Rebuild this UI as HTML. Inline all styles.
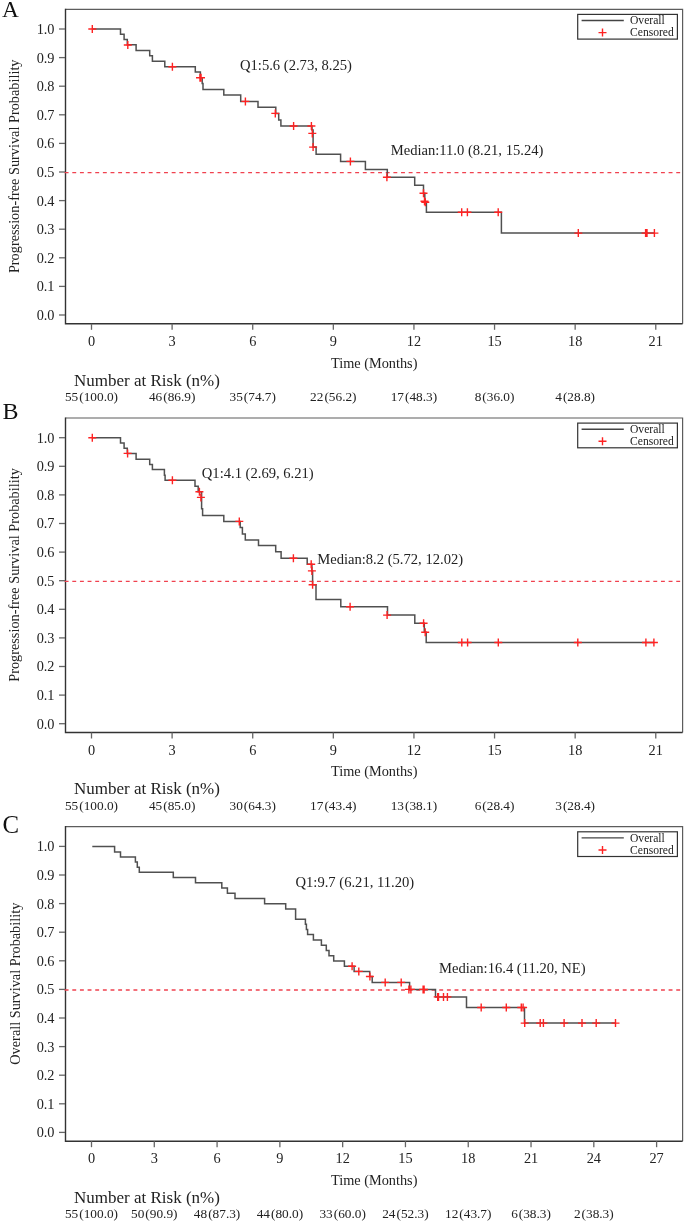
<!DOCTYPE html>
<html><head><meta charset="utf-8"><style>
html,body{margin:0;padding:0;background:#fff;}
svg{display:block;font-family:"Liberation Serif", serif;will-change:transform;}
</style></head><body>
<svg width="685" height="1222" viewBox="0 0 685 1222">
<rect width="685" height="1222" fill="#fff"/>
<text x="1.9" y="17.3" font-size="23.3" fill="#111">A</text>
<path d="M65.5 9.3H682.6V323.8" fill="none" stroke="#5c5c5c" stroke-width="1.2"/>
<path d="M65.5 8.7V323.8H682.6" fill="none" stroke="#333" stroke-width="1.4"/>
<line x1="59" y1="315" x2="65" y2="315" stroke="#666" stroke-width="1.3"/>
<text x="54.5" y="319.9" font-size="14.3" text-anchor="end" fill="#222">0.0</text>
<line x1="59" y1="286.4" x2="65" y2="286.4" stroke="#666" stroke-width="1.3"/>
<text x="54.5" y="291.3" font-size="14.3" text-anchor="end" fill="#222">0.1</text>
<line x1="59" y1="257.8" x2="65" y2="257.8" stroke="#666" stroke-width="1.3"/>
<text x="54.5" y="262.7" font-size="14.3" text-anchor="end" fill="#222">0.2</text>
<line x1="59" y1="229.2" x2="65" y2="229.2" stroke="#666" stroke-width="1.3"/>
<text x="54.5" y="234.1" font-size="14.3" text-anchor="end" fill="#222">0.3</text>
<line x1="59" y1="200.6" x2="65" y2="200.6" stroke="#666" stroke-width="1.3"/>
<text x="54.5" y="205.5" font-size="14.3" text-anchor="end" fill="#222">0.4</text>
<line x1="59" y1="172" x2="65" y2="172" stroke="#666" stroke-width="1.3"/>
<text x="54.5" y="176.9" font-size="14.3" text-anchor="end" fill="#222">0.5</text>
<line x1="59" y1="143.4" x2="65" y2="143.4" stroke="#666" stroke-width="1.3"/>
<text x="54.5" y="148.3" font-size="14.3" text-anchor="end" fill="#222">0.6</text>
<line x1="59" y1="114.8" x2="65" y2="114.8" stroke="#666" stroke-width="1.3"/>
<text x="54.5" y="119.7" font-size="14.3" text-anchor="end" fill="#222">0.7</text>
<line x1="59" y1="86.2" x2="65" y2="86.2" stroke="#666" stroke-width="1.3"/>
<text x="54.5" y="91.1" font-size="14.3" text-anchor="end" fill="#222">0.8</text>
<line x1="59" y1="57.6" x2="65" y2="57.6" stroke="#666" stroke-width="1.3"/>
<text x="54.5" y="62.5" font-size="14.3" text-anchor="end" fill="#222">0.9</text>
<line x1="59" y1="29" x2="65" y2="29" stroke="#666" stroke-width="1.3"/>
<text x="54.5" y="33.9" font-size="14.3" text-anchor="end" fill="#222">1.0</text>
<line x1="91.5" y1="323.8" x2="91.5" y2="329.8" stroke="#666" stroke-width="1.3"/>
<text x="91.5" y="345.9" font-size="14.3" text-anchor="middle" fill="#222">0</text>
<line x1="172.11" y1="323.8" x2="172.11" y2="329.8" stroke="#666" stroke-width="1.3"/>
<text x="172.11" y="345.9" font-size="14.3" text-anchor="middle" fill="#222">3</text>
<line x1="252.72" y1="323.8" x2="252.72" y2="329.8" stroke="#666" stroke-width="1.3"/>
<text x="252.72" y="345.9" font-size="14.3" text-anchor="middle" fill="#222">6</text>
<line x1="333.33" y1="323.8" x2="333.33" y2="329.8" stroke="#666" stroke-width="1.3"/>
<text x="333.33" y="345.9" font-size="14.3" text-anchor="middle" fill="#222">9</text>
<line x1="413.94" y1="323.8" x2="413.94" y2="329.8" stroke="#666" stroke-width="1.3"/>
<text x="413.94" y="345.9" font-size="14.3" text-anchor="middle" fill="#222">12</text>
<line x1="494.55" y1="323.8" x2="494.55" y2="329.8" stroke="#666" stroke-width="1.3"/>
<text x="494.55" y="345.9" font-size="14.3" text-anchor="middle" fill="#222">15</text>
<line x1="575.16" y1="323.8" x2="575.16" y2="329.8" stroke="#666" stroke-width="1.3"/>
<text x="575.16" y="345.9" font-size="14.3" text-anchor="middle" fill="#222">18</text>
<line x1="655.77" y1="323.8" x2="655.77" y2="329.8" stroke="#666" stroke-width="1.3"/>
<text x="655.77" y="345.9" font-size="14.3" text-anchor="middle" fill="#222">21</text>
<text x="374.2" y="367.6" font-size="14.3" text-anchor="middle" fill="#222">Time (Months)</text>
<text transform="translate(19.2 166.3) rotate(-90)" x="0" y="0" font-size="14.3" text-anchor="middle" fill="#222">Progression-free Survival Probability</text>
<line x1="64.65" y1="172.6" x2="682" y2="172.6" stroke="#f0424f" stroke-width="1.3" stroke-dasharray="3.9 3.745"/>
<path d="M92.3 29 H120.5 V34.3 H124.1 V39.4 H127.3 V44.8 H136.1 V50.4 H149.7 V55.8 H152.4 V61.2 H164.8 V66.7 H195.3 V72.1 H200.4 V77.8 H202.2 V83.4 H203 V89.6 H223.8 V95.1 H240.7 V101.4 H258 V107.3 H275.8 V113.4 H278.7 V119.9 H280.9 V126 H312 V130 H313.1 V147.1 H316.1 V154.2 H340.6 V161.4 H365.4 V169.5 H387.3 V177.2 H414.7 V185.3 H423.5 V193.3 H424.8 V201.8 H426.4 V212.2 H501.4 V233.1 H654.4 V233.1" fill="none" stroke="#505050" stroke-width="1.5"/>
<path d="M88.3 29H96.3M92.3 25V33M123.8 45H131.8M127.8 41V49M168.4 66.7H176.4M172.4 62.7V70.7M196 77.8H204M200 73.8V81.8M197 77.8H205M201 73.8V81.8M241.4 101.4H249.4M245.4 97.4V105.4M271.3 113.4H279.3M275.3 109.4V117.4M289.6 126H297.6M293.6 122V130M307.4 126H315.4M311.4 122V130M308.3 133.4H316.3M312.3 129.4V137.4M309.1 147.1H317.1M313.1 143.1V151.1M346.4 161.4H354.4M350.4 157.4V165.4M382.9 177.2H390.9M386.9 173.2V181.2M419.5 193.3H427.5M423.5 189.3V197.3M420.5 201.3H428.5M424.5 197.3V205.3M421.3 202.3H429.3M425.3 198.3V206.3M457.7 212.2H465.7M461.7 208.2V216.2M463.4 212.2H471.4M467.4 208.2V216.2M494.2 212.2H502.2M498.2 208.2V216.2M574.3 233.1H582.3M578.3 229.1V237.1M641.6 233.1H649.6M645.6 229.1V237.1M643 233.1H651M647 229.1V237.1M650.4 233.1H658.4M654.4 229.1V237.1" stroke="#f22" stroke-width="1.4" fill="none"/>
<rect x="577.7" y="14.4" width="99.7" height="24.7" fill="#fff" stroke="#333" stroke-width="1.2"/>
<line x1="581.6" y1="20.5" x2="623.8" y2="20.5" stroke="#444" stroke-width="1.4"/>
<path d="M598.5 32.6H606.5M602.5 28.6V36.6" stroke="#f22" stroke-width="1.4" fill="none"/>
<text x="630" y="24.4" font-size="11.6" fill="#222">Overall</text>
<text x="630" y="36.2" font-size="11.6" fill="#222">Censored</text>
<text x="240" y="69.6" font-size="14.6" fill="#222">Q1:5.6 (2.73, 8.25)</text>
<text x="390.7" y="155.3" font-size="14.6" fill="#222">Median:11.0 (8.21, 15.24)</text>
<text x="74" y="385.6" font-size="17" fill="#222">Number at Risk (n%)</text>
<text x="91.5" y="400.9" font-size="13.3" text-anchor="middle" fill="#222">55<tspan dx="1.0">(</tspan>100.0)</text>
<text x="172.11" y="400.9" font-size="13.3" text-anchor="middle" fill="#222">46<tspan dx="1.0">(</tspan>86.9)</text>
<text x="252.72" y="400.9" font-size="13.3" text-anchor="middle" fill="#222">35<tspan dx="1.0">(</tspan>74.7)</text>
<text x="333.33" y="400.9" font-size="13.3" text-anchor="middle" fill="#222">22<tspan dx="1.0">(</tspan>56.2)</text>
<text x="413.94" y="400.9" font-size="13.3" text-anchor="middle" fill="#222">17<tspan dx="1.0">(</tspan>48.3)</text>
<text x="494.55" y="400.9" font-size="13.3" text-anchor="middle" fill="#222">8<tspan dx="1.0">(</tspan>36.0)</text>
<text x="575.16" y="400.9" font-size="13.3" text-anchor="middle" fill="#222">4<tspan dx="1.0">(</tspan>28.8)</text>
<text x="2.6" y="418.6" font-size="24" fill="#111">B</text>
<path d="M65.5 418H682.6V732.5" fill="none" stroke="#5c5c5c" stroke-width="1.2"/>
<path d="M65.5 417.4V732.5H682.6" fill="none" stroke="#333" stroke-width="1.4"/>
<line x1="59" y1="723.7" x2="65" y2="723.7" stroke="#666" stroke-width="1.3"/>
<text x="54.5" y="728.6" font-size="14.3" text-anchor="end" fill="#222">0.0</text>
<line x1="59" y1="695.1" x2="65" y2="695.1" stroke="#666" stroke-width="1.3"/>
<text x="54.5" y="700" font-size="14.3" text-anchor="end" fill="#222">0.1</text>
<line x1="59" y1="666.5" x2="65" y2="666.5" stroke="#666" stroke-width="1.3"/>
<text x="54.5" y="671.4" font-size="14.3" text-anchor="end" fill="#222">0.2</text>
<line x1="59" y1="637.9" x2="65" y2="637.9" stroke="#666" stroke-width="1.3"/>
<text x="54.5" y="642.8" font-size="14.3" text-anchor="end" fill="#222">0.3</text>
<line x1="59" y1="609.3" x2="65" y2="609.3" stroke="#666" stroke-width="1.3"/>
<text x="54.5" y="614.2" font-size="14.3" text-anchor="end" fill="#222">0.4</text>
<line x1="59" y1="580.7" x2="65" y2="580.7" stroke="#666" stroke-width="1.3"/>
<text x="54.5" y="585.6" font-size="14.3" text-anchor="end" fill="#222">0.5</text>
<line x1="59" y1="552.1" x2="65" y2="552.1" stroke="#666" stroke-width="1.3"/>
<text x="54.5" y="557" font-size="14.3" text-anchor="end" fill="#222">0.6</text>
<line x1="59" y1="523.5" x2="65" y2="523.5" stroke="#666" stroke-width="1.3"/>
<text x="54.5" y="528.4" font-size="14.3" text-anchor="end" fill="#222">0.7</text>
<line x1="59" y1="494.9" x2="65" y2="494.9" stroke="#666" stroke-width="1.3"/>
<text x="54.5" y="499.8" font-size="14.3" text-anchor="end" fill="#222">0.8</text>
<line x1="59" y1="466.3" x2="65" y2="466.3" stroke="#666" stroke-width="1.3"/>
<text x="54.5" y="471.2" font-size="14.3" text-anchor="end" fill="#222">0.9</text>
<line x1="59" y1="437.7" x2="65" y2="437.7" stroke="#666" stroke-width="1.3"/>
<text x="54.5" y="442.6" font-size="14.3" text-anchor="end" fill="#222">1.0</text>
<line x1="91.5" y1="732.5" x2="91.5" y2="738.5" stroke="#666" stroke-width="1.3"/>
<text x="91.5" y="754.6" font-size="14.3" text-anchor="middle" fill="#222">0</text>
<line x1="172.11" y1="732.5" x2="172.11" y2="738.5" stroke="#666" stroke-width="1.3"/>
<text x="172.11" y="754.6" font-size="14.3" text-anchor="middle" fill="#222">3</text>
<line x1="252.72" y1="732.5" x2="252.72" y2="738.5" stroke="#666" stroke-width="1.3"/>
<text x="252.72" y="754.6" font-size="14.3" text-anchor="middle" fill="#222">6</text>
<line x1="333.33" y1="732.5" x2="333.33" y2="738.5" stroke="#666" stroke-width="1.3"/>
<text x="333.33" y="754.6" font-size="14.3" text-anchor="middle" fill="#222">9</text>
<line x1="413.94" y1="732.5" x2="413.94" y2="738.5" stroke="#666" stroke-width="1.3"/>
<text x="413.94" y="754.6" font-size="14.3" text-anchor="middle" fill="#222">12</text>
<line x1="494.55" y1="732.5" x2="494.55" y2="738.5" stroke="#666" stroke-width="1.3"/>
<text x="494.55" y="754.6" font-size="14.3" text-anchor="middle" fill="#222">15</text>
<line x1="575.16" y1="732.5" x2="575.16" y2="738.5" stroke="#666" stroke-width="1.3"/>
<text x="575.16" y="754.6" font-size="14.3" text-anchor="middle" fill="#222">18</text>
<line x1="655.77" y1="732.5" x2="655.77" y2="738.5" stroke="#666" stroke-width="1.3"/>
<text x="655.77" y="754.6" font-size="14.3" text-anchor="middle" fill="#222">21</text>
<text x="374.2" y="776.3" font-size="14.3" text-anchor="middle" fill="#222">Time (Months)</text>
<text transform="translate(18.9 575) rotate(-90)" x="0" y="0" font-size="14.3" text-anchor="middle" fill="#222">Progression-free Survival Probability</text>
<line x1="64.65" y1="581.3" x2="682" y2="581.3" stroke="#f0424f" stroke-width="1.3" stroke-dasharray="3.9 3.745"/>
<path d="M92.3 437.7 H120.5 V443.1 H124.1 V448.2 H127.3 V453.4 H136.1 V459.2 H149.7 V464.6 H152.4 V469.4 H164.4 V475.2 H165.1 V480.3 H195 V486.2 H198.2 V491.7 H201.6 V508.8 H202.6 V515.4 H223.8 V521.4 H240.2 V527.6 H242.4 V533.9 H245.3 V540 H258.5 V545.6 H275.7 V551.7 H281.1 V558.2 H307.2 V564.2 H311.9 V570.9 H312.6 V584.7 H316 V599.6 H340.8 V606.8 H387.5 V615.1 H414.8 V623.3 H424.3 V632.3 H426.2 V642.5 H654 V642.5" fill="none" stroke="#505050" stroke-width="1.5"/>
<path d="M88.3 437.7H96.3M92.3 433.7V441.7M123.6 453.4H131.6M127.6 449.4V457.4M168.4 480.3H176.4M172.4 476.3V484.3M195.4 491.7H203.4M199.4 487.7V495.7M196.9 497.4H204.9M200.9 493.4V501.4M235.3 521.4H243.3M239.3 517.4V525.4M289.4 558.2H297.4M293.4 554.2V562.2M307.2 564.2H315.2M311.2 560.2V568.2M307.9 570.9H315.9M311.9 566.9V574.9M308.6 584.7H316.6M312.6 580.7V588.7M346.1 606.8H354.1M350.1 602.8V610.8M383.1 615.1H391.1M387.1 611.1V619.1M419.6 623.3H427.6M423.6 619.3V627.3M421.2 632.3H429.2M425.2 628.3V636.3M457.8 642.5H465.8M461.8 638.5V646.5M463.6 642.5H471.6M467.6 638.5V646.5M494.3 642.5H502.3M498.3 638.5V646.5M573.8 642.5H581.8M577.8 638.5V646.5M641.9 642.5H649.9M645.9 638.5V646.5M649.9 642.5H657.9M653.9 638.5V646.5" stroke="#f22" stroke-width="1.4" fill="none"/>
<rect x="577.7" y="423.1" width="99.7" height="24.7" fill="#fff" stroke="#333" stroke-width="1.2"/>
<line x1="581.6" y1="429.2" x2="623.8" y2="429.2" stroke="#444" stroke-width="1.4"/>
<path d="M598.5 441.3H606.5M602.5 437.3V445.3" stroke="#f22" stroke-width="1.4" fill="none"/>
<text x="630" y="433.1" font-size="11.6" fill="#222">Overall</text>
<text x="630" y="444.9" font-size="11.6" fill="#222">Censored</text>
<text x="201.8" y="477.6" font-size="14.6" fill="#222">Q1:4.1 (2.69, 6.21)</text>
<text x="317.2" y="563.7" font-size="14.6" fill="#222">Median:8.2 (5.72, 12.02)</text>
<text x="74" y="794.3" font-size="17" fill="#222">Number at Risk (n%)</text>
<text x="91.5" y="809.6" font-size="13.3" text-anchor="middle" fill="#222">55<tspan dx="1.0">(</tspan>100.0)</text>
<text x="172.11" y="809.6" font-size="13.3" text-anchor="middle" fill="#222">45<tspan dx="1.0">(</tspan>85.0)</text>
<text x="252.72" y="809.6" font-size="13.3" text-anchor="middle" fill="#222">30<tspan dx="1.0">(</tspan>64.3)</text>
<text x="333.33" y="809.6" font-size="13.3" text-anchor="middle" fill="#222">17<tspan dx="1.0">(</tspan>43.4)</text>
<text x="413.94" y="809.6" font-size="13.3" text-anchor="middle" fill="#222">13<tspan dx="1.0">(</tspan>38.1)</text>
<text x="494.55" y="809.6" font-size="13.3" text-anchor="middle" fill="#222">6<tspan dx="1.0">(</tspan>28.4)</text>
<text x="575.16" y="809.6" font-size="13.3" text-anchor="middle" fill="#222">3<tspan dx="1.0">(</tspan>28.4)</text>
<text x="2.6" y="833.3" font-size="24.8" fill="#111">C</text>
<path d="M65.5 826.7H682.6V1141.2" fill="none" stroke="#5c5c5c" stroke-width="1.2"/>
<path d="M65.5 826.1V1141.2H682.6" fill="none" stroke="#333" stroke-width="1.4"/>
<line x1="59" y1="1132.4" x2="65" y2="1132.4" stroke="#666" stroke-width="1.3"/>
<text x="54.5" y="1137.3" font-size="14.3" text-anchor="end" fill="#222">0.0</text>
<line x1="59" y1="1103.8" x2="65" y2="1103.8" stroke="#666" stroke-width="1.3"/>
<text x="54.5" y="1108.7" font-size="14.3" text-anchor="end" fill="#222">0.1</text>
<line x1="59" y1="1075.2" x2="65" y2="1075.2" stroke="#666" stroke-width="1.3"/>
<text x="54.5" y="1080.1" font-size="14.3" text-anchor="end" fill="#222">0.2</text>
<line x1="59" y1="1046.6" x2="65" y2="1046.6" stroke="#666" stroke-width="1.3"/>
<text x="54.5" y="1051.5" font-size="14.3" text-anchor="end" fill="#222">0.3</text>
<line x1="59" y1="1018" x2="65" y2="1018" stroke="#666" stroke-width="1.3"/>
<text x="54.5" y="1022.9" font-size="14.3" text-anchor="end" fill="#222">0.4</text>
<line x1="59" y1="989.4" x2="65" y2="989.4" stroke="#666" stroke-width="1.3"/>
<text x="54.5" y="994.3" font-size="14.3" text-anchor="end" fill="#222">0.5</text>
<line x1="59" y1="960.8" x2="65" y2="960.8" stroke="#666" stroke-width="1.3"/>
<text x="54.5" y="965.7" font-size="14.3" text-anchor="end" fill="#222">0.6</text>
<line x1="59" y1="932.2" x2="65" y2="932.2" stroke="#666" stroke-width="1.3"/>
<text x="54.5" y="937.1" font-size="14.3" text-anchor="end" fill="#222">0.7</text>
<line x1="59" y1="903.6" x2="65" y2="903.6" stroke="#666" stroke-width="1.3"/>
<text x="54.5" y="908.5" font-size="14.3" text-anchor="end" fill="#222">0.8</text>
<line x1="59" y1="875" x2="65" y2="875" stroke="#666" stroke-width="1.3"/>
<text x="54.5" y="879.9" font-size="14.3" text-anchor="end" fill="#222">0.9</text>
<line x1="59" y1="846.4" x2="65" y2="846.4" stroke="#666" stroke-width="1.3"/>
<text x="54.5" y="851.3" font-size="14.3" text-anchor="end" fill="#222">1.0</text>
<line x1="91.5" y1="1141.2" x2="91.5" y2="1147.2" stroke="#666" stroke-width="1.3"/>
<text x="91.5" y="1163.3" font-size="14.3" text-anchor="middle" fill="#222">0</text>
<line x1="154.29" y1="1141.2" x2="154.29" y2="1147.2" stroke="#666" stroke-width="1.3"/>
<text x="154.29" y="1163.3" font-size="14.3" text-anchor="middle" fill="#222">3</text>
<line x1="217.08" y1="1141.2" x2="217.08" y2="1147.2" stroke="#666" stroke-width="1.3"/>
<text x="217.08" y="1163.3" font-size="14.3" text-anchor="middle" fill="#222">6</text>
<line x1="279.87" y1="1141.2" x2="279.87" y2="1147.2" stroke="#666" stroke-width="1.3"/>
<text x="279.87" y="1163.3" font-size="14.3" text-anchor="middle" fill="#222">9</text>
<line x1="342.66" y1="1141.2" x2="342.66" y2="1147.2" stroke="#666" stroke-width="1.3"/>
<text x="342.66" y="1163.3" font-size="14.3" text-anchor="middle" fill="#222">12</text>
<line x1="405.45" y1="1141.2" x2="405.45" y2="1147.2" stroke="#666" stroke-width="1.3"/>
<text x="405.45" y="1163.3" font-size="14.3" text-anchor="middle" fill="#222">15</text>
<line x1="468.24" y1="1141.2" x2="468.24" y2="1147.2" stroke="#666" stroke-width="1.3"/>
<text x="468.24" y="1163.3" font-size="14.3" text-anchor="middle" fill="#222">18</text>
<line x1="531.03" y1="1141.2" x2="531.03" y2="1147.2" stroke="#666" stroke-width="1.3"/>
<text x="531.03" y="1163.3" font-size="14.3" text-anchor="middle" fill="#222">21</text>
<line x1="593.82" y1="1141.2" x2="593.82" y2="1147.2" stroke="#666" stroke-width="1.3"/>
<text x="593.82" y="1163.3" font-size="14.3" text-anchor="middle" fill="#222">24</text>
<line x1="656.61" y1="1141.2" x2="656.61" y2="1147.2" stroke="#666" stroke-width="1.3"/>
<text x="656.61" y="1163.3" font-size="14.3" text-anchor="middle" fill="#222">27</text>
<text x="374.2" y="1185" font-size="14.3" text-anchor="middle" fill="#222">Time (Months)</text>
<text transform="translate(19.6 983.7) rotate(-90)" x="0" y="0" font-size="14.3" text-anchor="middle" fill="#222">Overall Survival Probability</text>
<line x1="64.65" y1="990" x2="682" y2="990" stroke="#f0424f" stroke-width="1.3" stroke-dasharray="3.9 3.745"/>
<path d="M92.3 846.5 H114.6 V851.9 H120.5 V857 H135.4 V862.1 H137.3 V867.2 H139.3 V872.3 H173.3 V877.4 H195.5 V882.8 H221.8 V887.9 H227.4 V893.2 H235 V898.6 H264.6 V903.8 H285.7 V909 H295.6 V919.2 H305.4 V924.3 H306.4 V929.4 H307.6 V934.5 H313.4 V940 H321.4 V945.3 H326.3 V950.4 H329 V955.8 H333.7 V960.9 H344.4 V966.3 H354.1 V971.4 H369.7 V976.5 H372.2 V982.4 H409.6 V989.4 H435.5 V996.9 H466.5 V1007.5 H524.5 V1023.1 H615.5 V1023.1" fill="none" stroke="#505050" stroke-width="1.5"/>
<path d="M348.1 966.3H356.1M352.1 962.3V970.3M354.8 971.4H362.8M358.8 967.4V975.4M365.9 976.5H373.9M369.9 972.5V980.5M381.2 982.4H389.2M385.2 978.4V986.4M397.2 982.4H405.2M401.2 978.4V986.4M404.9 989.4H412.9M408.9 985.4V993.4M406.9 989.4H414.9M410.9 985.4V993.4M419.1 989.4H427.1M423.1 985.4V993.4M420.1 989.4H428.1M424.1 985.4V993.4M433.7 996.9H441.7M437.7 992.9V1000.9M434.5 996.9H442.5M438.5 992.9V1000.9M439.5 996.9H447.5M443.5 992.9V1000.9M443.4 996.9H451.4M447.4 992.9V1000.9M477.2 1007.5H485.2M481.2 1003.5V1011.5M502.3 1007.5H510.3M506.3 1003.5V1011.5M517.3 1007.5H525.3M521.3 1003.5V1011.5M519.1 1007.5H527.1M523.1 1003.5V1011.5M520.7 1023.1H528.7M524.7 1019.1V1027.1M536.2 1023.1H544.2M540.2 1019.1V1027.1M539.4 1023.1H547.4M543.4 1019.1V1027.1M560.1 1023.1H568.1M564.1 1019.1V1027.1M578 1023.1H586M582 1019.1V1027.1M592.2 1023.1H600.2M596.2 1019.1V1027.1M611.5 1023.1H619.5M615.5 1019.1V1027.1" stroke="#f22" stroke-width="1.4" fill="none"/>
<rect x="577.7" y="831.8" width="99.7" height="24.7" fill="#fff" stroke="#333" stroke-width="1.2"/>
<line x1="581.6" y1="837.9" x2="623.8" y2="837.9" stroke="#444" stroke-width="1.4"/>
<path d="M598.5 850H606.5M602.5 846V854" stroke="#f22" stroke-width="1.4" fill="none"/>
<text x="630" y="841.8" font-size="11.6" fill="#222">Overall</text>
<text x="630" y="853.6" font-size="11.6" fill="#222">Censored</text>
<text x="295.5" y="887.1" font-size="14.6" fill="#222">Q1:9.7 (6.21, 11.20)</text>
<text x="439" y="972.9" font-size="14.6" fill="#222">Median:16.4 (11.20, NE)</text>
<text x="74" y="1203" font-size="17" fill="#222">Number at Risk (n%)</text>
<text x="91.5" y="1218.3" font-size="13.3" text-anchor="middle" fill="#222">55<tspan dx="1.0">(</tspan>100.0)</text>
<text x="154.29" y="1218.3" font-size="13.3" text-anchor="middle" fill="#222">50<tspan dx="1.0">(</tspan>90.9)</text>
<text x="217.08" y="1218.3" font-size="13.3" text-anchor="middle" fill="#222">48<tspan dx="1.0">(</tspan>87.3)</text>
<text x="279.87" y="1218.3" font-size="13.3" text-anchor="middle" fill="#222">44<tspan dx="1.0">(</tspan>80.0)</text>
<text x="342.66" y="1218.3" font-size="13.3" text-anchor="middle" fill="#222">33<tspan dx="1.0">(</tspan>60.0)</text>
<text x="405.45" y="1218.3" font-size="13.3" text-anchor="middle" fill="#222">24<tspan dx="1.0">(</tspan>52.3)</text>
<text x="468.24" y="1218.3" font-size="13.3" text-anchor="middle" fill="#222">12<tspan dx="1.0">(</tspan>43.7)</text>
<text x="531.03" y="1218.3" font-size="13.3" text-anchor="middle" fill="#222">6<tspan dx="1.0">(</tspan>38.3)</text>
<text x="593.82" y="1218.3" font-size="13.3" text-anchor="middle" fill="#222">2<tspan dx="1.0">(</tspan>38.3)</text>
</svg>
</body></html>
